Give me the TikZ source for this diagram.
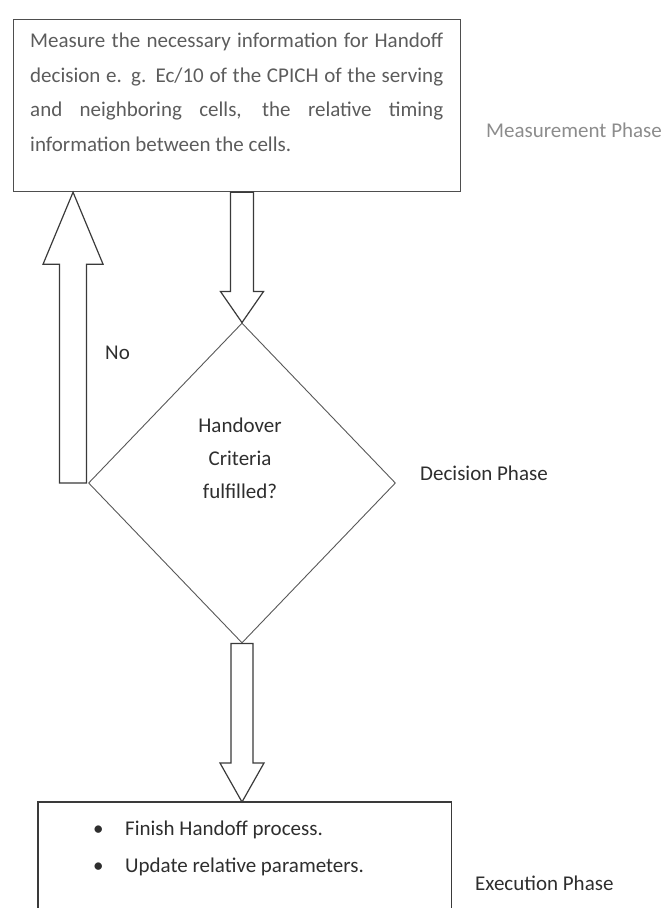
\documentclass[tikz,border=0pt]{standalone}
\usepackage{fontspec}
\setmainfont{Carlito}
\usetikzlibrary{calc,shapes.geometric}

\definecolor{ink}{HTML}{2E2E2E}
\definecolor{paleink}{HTML}{5C5C5C}
\definecolor{faintink}{HTML}{8C8C8C}
\definecolor{rule}{HTML}{3A3A3A}

% vertical block arrow: #1 tail, #2 tip, #3 shaft half width,
% #4 head half width, #5 signed head length (negative = pointing down)
\newcommand\vblock[5]{%
  \draw[blockarrow] ($(#1)+(-#3,0)$) -- ($(#2)+(-#3,#5)$) -- ($(#2)+(-#4,#5)$)
    -- (#2) -- ($(#2)+(#4,#5)$) -- ($(#2)+(#3,#5)$) -- ($(#1)+(#3,0)$) -- cycle;}

\begin{document}
\begin{tikzpicture}[x=1pt,y=-1pt,
  every node/.style={inner sep=0pt, text=ink, font=\fontsize{21}{34}\selectfont},
  phasebox/.style={draw=rule!90, line width=1.2pt, rectangle, minimum width=447pt, minimum height=172pt, anchor=north west},
  execbox/.style={rectangle, minimum width=413pt, minimum height=106pt, anchor=north west},
  decision/.style={draw=rule!85, line width=0.9pt, diamond, minimum width=307pt, minimum height=320pt},
  phaselabel/.style={anchor=west},
  blockarrow/.style={draw=rule, line width=1.2pt, line join=miter, fill=white}]

\useasboundingbox (0,0) rectangle (667,908);

% measurement step
\node[phasebox] (meas) at (13,19) {};
\node[anchor=north west, text width=413pt, align=justify, text=paleink,
      font=\fontsize{21}{34.5}\selectfont] (meastext) at (30,33)
  {Measure the necessary information for Handoff\linebreak
   decision e. g. Ec/10 of the CPICH of the serving\linebreak
   and neighboring cells, the relative timing\linebreak
   information between the cells.};
\node[phaselabel, text=faintink] (measlabel) at (486,130) {Measurement Phase};

% decision step
\node[decision] (dec) at (242,483) {};
\node[align=center, font=\fontsize{21}{33}\selectfont] (dectext) at (240,458)
  {Handover\\Criteria\\fulfilled?};
\node[phaselabel] (declabel) at (420,473) {Decision Phase};

% execution step (box runs past the lower edge)
\node[execbox] (exec) at (38,802) {};
\draw[rule, line width=1.4pt] (exec.south west) -- (exec.north west) -- (exec.north east) -- (exec.south east);
\node[anchor=west, align=left, font=\fontsize{21}{37}\selectfont] (execlist) at (93,848.5)
  {\makebox[32pt][l]{\textbullet}Finish Handoff process.\\
   \makebox[32pt][l]{\textbullet}Update relative parameters.};
\node[phaselabel] (execlabel) at (475,883) {Execution Phase};

% connectors
\coordinate (downtail) at (dec.north |- meas.south);
\vblock{downtail}{dec.north}{11.5}{21.5}{-31}

\coordinate (uptail) at ($(dec.west)+(-15,0)$);
\coordinate (uptip) at (uptail |- meas.south);
\vblock{uptail}{uptip}{13.5}{30}{72}
\node[anchor=west] (no) at (105,353) {No};

\coordinate (exectop) at (dec.south |- exec.north);
\vblock{dec.south}{exectop}{11}{22}{-39}

\end{tikzpicture}
\end{document}
